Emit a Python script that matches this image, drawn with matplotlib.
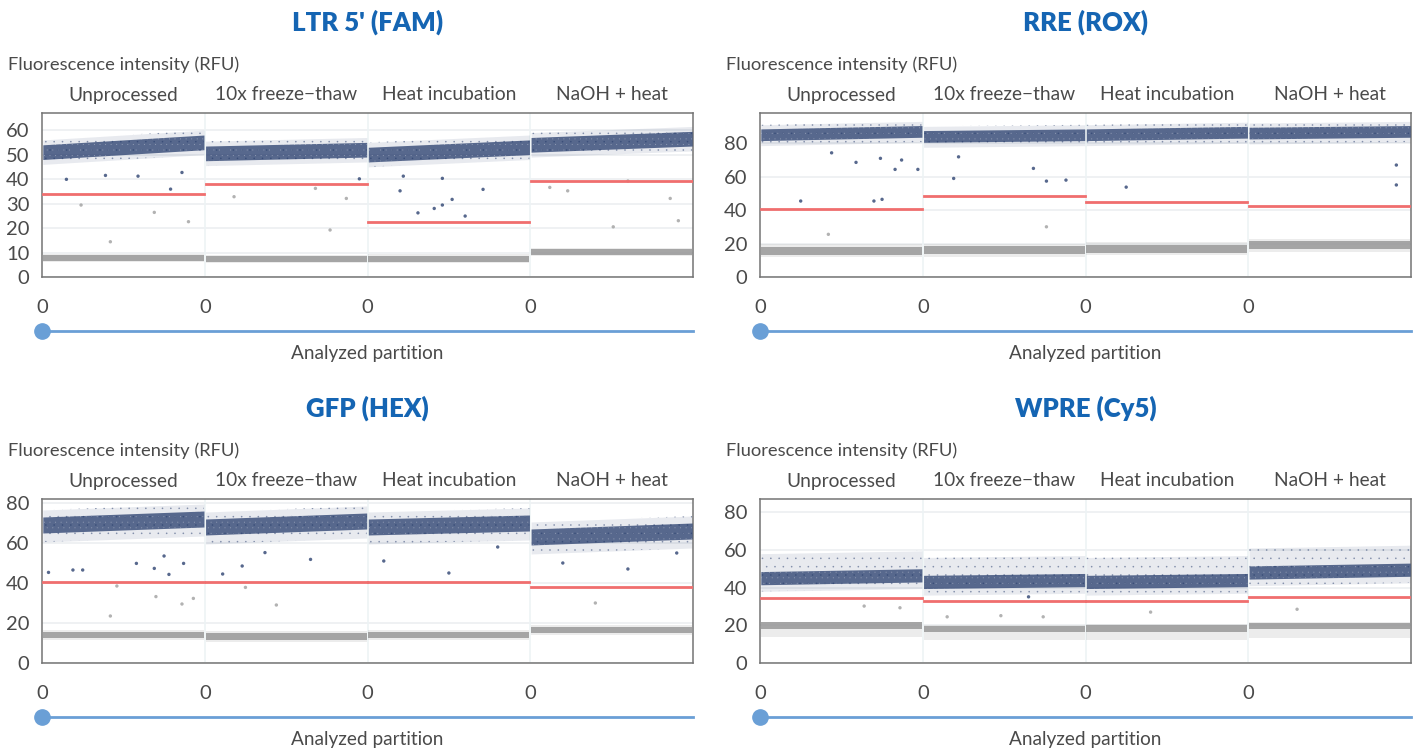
import matplotlib.pyplot as plt
from matplotlib.lines import Line2D

plt.rcParams['font.family'] = ['Lato', 'DejaVu Sans']
plt.rcParams['hatch.linewidth'] = 0.0

# ------------------------------------------------------------------
# data
# ------------------------------------------------------------------
SEGMENTS = ["Unprocessed", "10x freeze\u2212thaw", "Heat incubation", "NaOH + heat"]
TITLES = ["LTR 5' (FAM)", "RRE (ROX)", "GFP (HEX)", "WPRE (Cy5)"]
YMAX = [67, 98, 82, 87]
YTICKS = [[0, 10, 20, 30, 40, 50, 60],
          [0, 20, 40, 60, 80],
          [0, 20, 40, 60, 80],
          [0, 20, 40, 60, 80]]

# positive cluster centre at start / end of each segment
POS_START = [[51, 50.5, 50, 54], [85, 84, 85, 86], [69, 68, 68, 63], [45, 43, 43, 48]]
POS_END = [[55, 52, 53, 56.5], [87, 85, 86.5, 87], [72, 71, 70, 66], [46.5, 44, 44, 49.5]]
POS_CORE = [3.0, 3.5, 4.0, 3.5]          # dense half width
POS_OUTER_LO = [5.0, 6.5, 8.5, 7.0]      # sparse extent below centre
POS_OUTER_HI = [5.0, 6.0, 7.5, 13.0]     # sparse extent above centre

# negative cluster centre per segment
NEG_MID = [[7.8, 7.3, 7.5, 10.2], [15.7, 16, 17, 19], [14, 13.3, 14, 16.5], [19.8, 18, 18.3, 19.5]]
NEG_CORE = [1.2, 2.4, 1.7, 1.7]
NEG_OUTER_LO = [1.7, 3.8, 2.7, 6.0]
NEG_OUTER_HI = [1.7, 3.8, 2.7, 2.2]

# thresholds per segment
THRESH = [[33.9, 37.8, 22.3, 39.3],
          [40.8, 48.2, 44.8, 42.4],
          [40.6, 40.6, 40.6, 38.0],
          [34.3, 33.0, 33.0, 35.0]]

# scattered "rain" droplets (x in segment units, y in RFU)
RAIN_X = [
    [0.15, 0.39, 0.59, 0.79, 0.86, 0.24, 0.69, 0.90, 0.42, 1.95, 1.68, 1.18, 1.87, 1.77,
     2.31, 2.41, 2.46, 2.60, 2.52, 2.71, 2.20, 2.22, 2.46, 3.60, 3.12, 3.23, 3.86, 3.51, 3.91],
    [0.25, 0.70, 0.75, 0.59, 0.74, 0.83, 0.87, 0.97, 0.44, 1.19, 1.22, 1.68, 1.76, 1.88,
     0.42, 1.76, 2.25, 3.91, 3.91],
    [0.04, 0.19, 0.25, 0.58, 0.69, 0.78, 0.87, 0.75, 1.11, 1.23, 1.37, 1.65, 0.70, 0.86,
     0.93, 1.44, 0.46, 1.25, 0.42, 2.10, 2.50, 2.80, 3.20, 3.60, 3.90, 3.40],
    [0.64, 0.86, 1.15, 1.48, 1.74, 1.65, 2.40, 3.30],
]
RAIN_Y = [
    [39.9, 41.5, 41.2, 35.9, 42.7, 29.4, 26.4, 22.6, 14.4, 40.1, 36.2, 32.8, 32.1, 19.2,
     26.2, 28.0, 29.4, 24.9, 31.7, 35.8, 35.2, 41.2, 40.3, 39.2, 36.6, 35.2, 32.1, 20.5, 23.0],
    [45.4, 45.4, 46.4, 68.5, 70.9, 64.3, 69.9, 64.3, 74.2, 58.9, 71.8, 64.9, 57.3, 57.9,
     25.5, 30.0, 53.7, 66.9, 55.0],
    [45.3, 46.5, 46.5, 49.8, 47.3, 44.3, 49.8, 53.5, 44.5, 48.5, 55.2, 51.8, 33.2, 29.5,
     32.3, 29.0, 38.5, 37.8, 23.5, 51.0, 45.0, 58.0, 50.0, 47.0, 55.0, 30.0],
    [30.2, 29.3, 24.5, 25.1, 24.5, 35.1, 27.0, 28.5],
]

# ------------------------------------------------------------------
NAVY = '#1f3667'
GREY = '#999999'
RED = '#f06e6e'
BLUE_T = '#1565b3'
SLIDER = '#6a9fd6'
TXT = '#4a4a4a'

W, H = 1415, 753
fig = plt.figure(figsize=(W / 100, H / 100), dpi=100)

LEFTS = [42, 760, 42, 760]
TOPS = [113, 113, 499, 499]
AX_W, AX_H = 651, 164


def fx(px):
    return px / W


def fy(py):
    return 1 - py / H


for i in range(4):
    left, top = LEFTS[i], TOPS[i]
    ax = fig.add_axes([fx(left), fy(top + AX_H), AX_W / W, AX_H / H])
    ax.set_xlim(0, 4)
    ax.set_ylim(0, YMAX[i])

    for yt in YTICKS[i]:
        ax.axhline(yt, color='#eceff1', lw=1.2, zorder=0)
    for s in (1, 2, 3):
        ax.axvline(s, color='#edf3f5', lw=1.2, zorder=0)

    for s in range(4):
        xs = [s + 0.005, s + 0.995]
        c0, c1 = POS_START[i][s], POS_END[i][s]
        lo = [c0 - POS_OUTER_LO[i], c1 - POS_OUTER_LO[i]]
        hi = [c0 + POS_OUTER_HI[i], c1 + POS_OUTER_HI[i]]
        # sparse halo of the positive cluster
        ax.fill_between(xs, lo, hi, color=NAVY, alpha=0.10, lw=0, zorder=2)
        ax.fill_between(xs, lo, hi, facecolor='none', edgecolor=NAVY, hatch='..',
                        lw=0, alpha=0.5, zorder=2)
        # dense core
        lo = [c0 - POS_CORE[i], c1 - POS_CORE[i]]
        hi = [c0 + POS_CORE[i], c1 + POS_CORE[i]]
        ax.fill_between(xs, lo, hi, color=NAVY, alpha=0.72, lw=0, zorder=3)
        ax.fill_between(xs, lo, hi, facecolor='none', edgecolor='white', hatch='...',
                        lw=0, alpha=0.35, zorder=3)

        n = NEG_MID[i][s]
        ax.fill_between(xs, [n - NEG_OUTER_LO[i]] * 2, [n + NEG_OUTER_HI[i]] * 2,
                        color=GREY, alpha=0.18, lw=0, zorder=2)
        ax.fill_between(xs, [n - NEG_CORE[i]] * 2, [n + NEG_CORE[i]] * 2,
                        color=GREY, alpha=0.85, lw=0, zorder=3)

        ax.plot(xs, [THRESH[i][s]] * 2, color=RED, lw=2.0, zorder=5)

    cols = [NAVY if y > THRESH[i][int(x)] else GREY for x, y in zip(RAIN_X[i], RAIN_Y[i])]
    ax.scatter(RAIN_X[i], RAIN_Y[i], s=6, c=cols, alpha=0.75, lw=0, zorder=4)

    ax.set_yticks(YTICKS[i])
    ax.set_xticks([0, 1, 2, 3])
    ax.set_xticklabels(['0'] * 4)
    ax.tick_params(length=0, labelsize=14.5, labelcolor=TXT)
    ax.tick_params(axis='x', pad=16)
    ax.tick_params(axis='y', pad=9)
    for sp in ax.spines.values():
        sp.set_color('#747474')
        sp.set_linewidth(1.1)

    # headers and labels
    cx = left + AX_W / 2
    fig.text(fx(cx), fy(top - 91), TITLES[i], color=BLUE_T, fontsize=18.5,
             fontweight='heavy', ha='center', va='center')
    fig.text(fx(left - 34), fy(top - 48), 'Fluorescence intensity (RFU)', color=TXT,
             fontsize=13.2, ha='left', va='center')
    for s in range(4):
        fig.text(fx(left + AX_W * (s + 0.5) / 4), fy(top - 18), SEGMENTS[s], color=TXT,
                 fontsize=13.8, ha='center', va='center')

    # slider below the axis
    sy = fy(top + 218)
    fig.add_artist(Line2D([fx(left), fx(left + AX_W)], [sy, sy], color=SLIDER, lw=2))
    fig.add_artist(Line2D([fx(left)], [sy], marker='o', markersize=11,
                          color=SLIDER, lw=0))
    fig.text(fx(cx), fy(top + 241), 'Analyzed partition', color=TXT, fontsize=13.7,
             ha='center', va='center')

plt.savefig('out.png', dpi=100)
